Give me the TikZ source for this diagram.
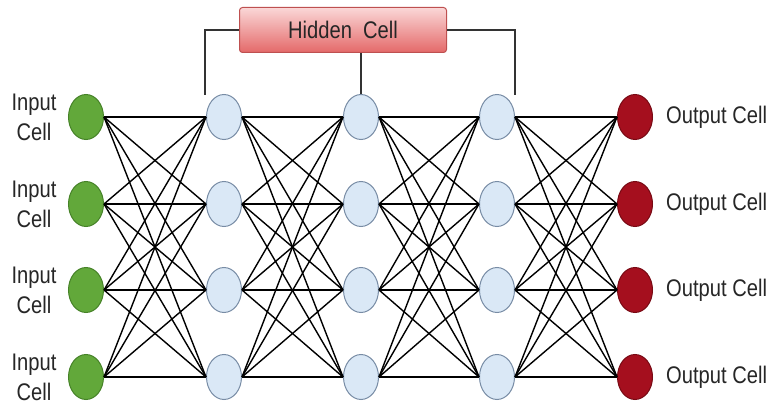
\documentclass[tikz,border=0pt]{standalone}
\usepackage{fontspec}
\setmainfont{Liberation Sans}[FakeStretch=0.84]
\usepackage{tikz}
\usetikzlibrary{shapes.geometric}

\definecolor{ingreen}{RGB}{98,168,58}
\definecolor{ingreenline}{RGB}{70,130,40}
\definecolor{hidblue}{RGB}{218,232,246}
\definecolor{hidline}{RGB}{120,140,165}
\definecolor{outred}{RGB}{165,15,30}
\definecolor{outredline}{RGB}{120,10,20}
\definecolor{boxtop}{RGB}{250,215,215}
\definecolor{boxbot}{RGB}{228,105,105}
\definecolor{boxline}{RGB}{190,80,80}

\tikzset{
  cell/.style={ellipse,minimum width=35pt,minimum height=45pt,inner sep=0pt,line width=1pt},
  incell/.style={cell,fill=ingreen,draw=ingreenline},
  hidcell/.style={cell,fill=hidblue,draw=hidline},
  outcell/.style={cell,fill=outred,draw=outredline},
  link/.style={line width=1.4pt,black},
  lbl/.style={font=\fontsize{24}{30}\selectfont,text=black!85,inner sep=0pt}
}

\begin{document}
\begin{tikzpicture}[x=1pt,y=-1pt]
\useasboundingbox (0,0) rectangle (784,411);
% cells
\foreach \r/\y in {1/117,2/204,3/290,4/377}{
  \node[incell] (in\r) at (86,\y) {};
  \node[hidcell] (ha\r) at (224,\y) {};
  \node[hidcell] (hb\r) at (361,\y) {};
  \node[hidcell] (hc\r) at (497,\y) {};
  \node[outcell] (out\r) at (635,\y) {};
  \node[lbl,align=center] (inlab\r) at (34,\y) {Input\\Cell};
  \node[lbl,anchor=west] (outlab\r) at (666,\y) {Output Cell};
}
% links
\foreach \i in {1,...,4}{
  \foreach \j in {1,...,4}{
    \draw[link] (in\i.east) -- (ha\j.west);
    \draw[link] (ha\i.east) -- (hb\j.west);
    \draw[link] (hb\i.east) -- (hc\j.west);
    \draw[link] (hc\i.east) -- (out\j.west);
  }
}
% hidden cell box
\node[draw=boxline,line width=1pt,rounded corners=3pt,top color=boxtop,bottom color=boxbot,
      minimum width=207pt,minimum height=45pt,lbl] (hbox) at (343,30) {Hidden\ \ Cell};
\coordinate (lt) at (205,95);
\coordinate (rt) at (515,95);
\draw[line width=1.3pt,black!80] (hbox.west) -| (lt);
\draw[line width=1.3pt,black!80] (hbox.east) -| (rt);
\draw[line width=1.3pt,black!80] (hbox.south -| hb1.north) -- (hb1.north);
\end{tikzpicture}
\end{document}
